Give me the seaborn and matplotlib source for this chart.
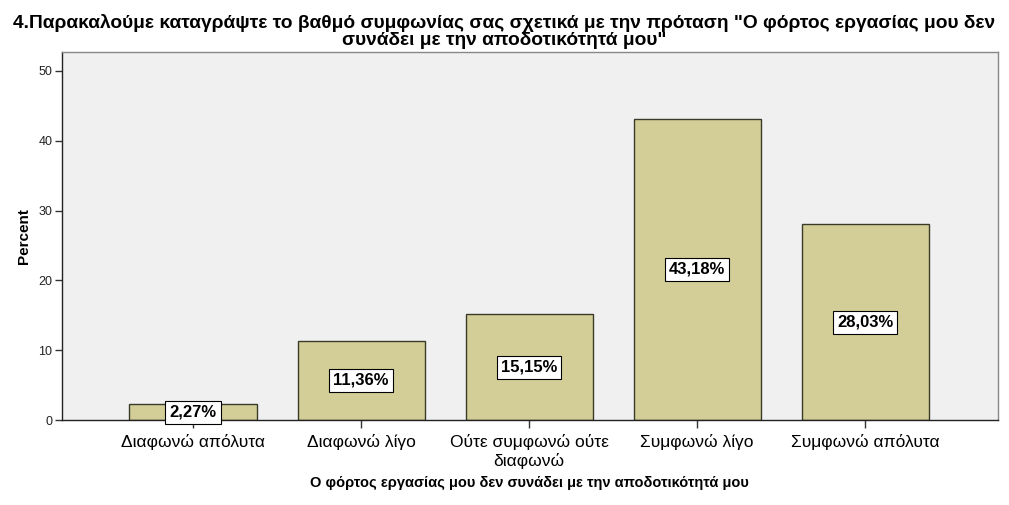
import matplotlib.pyplot as plt
import pandas as pd
import seaborn as sns

# Data
categories = [
    "Διαφωνώ απόλυτα",
    "Διαφωνώ λίγο",
    "Ούτε συμφωνώ ούτε\nδιαφωνώ",
    "Συμφωνώ λίγο",
    "Συμφωνώ απόλυτα",
]
percents = [2.27, 11.36, 15.15, 43.18, 28.03]
y_ticks = [0, 10, 20, 30, 40, 50]

title = ('4.Παρακαλούμε καταγράψτε το βαθμό συμφωνίας σας σχετικά με την πρόταση '
         '"Ο φόρτος εργασίας μου δεν\nσυνάδει με την αποδοτικότητά μου"')
x_label = "Ο φόρτος εργασίας μου δεν συνάδει με την αποδοτικότητά μου"

df = pd.DataFrame({"category": categories, "percent": percents})

sns.set_style("white")
plt.rcParams["font.family"] = ["Liberation Sans", "DejaVu Sans"]
plt.rcParams["text.color"] = "black"
plt.rcParams["axes.labelcolor"] = "black"

fig = plt.figure(figsize=(10.09, 5.05), dpi=100)
ax = fig.add_axes([0.0614, 0.168, 0.9275, 0.729])
ax.set_facecolor("#F0F0F0")

sns.barplot(
    data=df,
    x="category",
    y="percent",
    color="#D3CE97",
    saturation=1,
    edgecolor="#3A3A2A",
    linewidth=1,
    width=0.756,
    ax=ax,
)

# value labels in white boxes at mid-height of each bar
for i, v in enumerate(percents):
    ax.text(
        i, v / 2, f"{v:.2f}%".replace(".", ","),
        ha="center", va="center", fontsize=12, fontweight="bold", color="black",
        bbox=dict(boxstyle="square,pad=0.25", fc="white", ec="black", lw=0.8),
    )

ax.set_xlim(-0.78, 4.79)
ax.set_ylim(0, 52.7)
ax.set_yticks(y_ticks)
ax.tick_params(axis="y", labelsize=9, labelcolor="#222222", length=5, width=1,
               direction="out", left=True, pad=2, color="#333333")
ax.tick_params(axis="x", labelsize=12.5, labelcolor="black", length=6, width=1,
               bottom=True, direction="out", pad=4, color="#333333")

for s in ["left", "bottom"]:
    ax.spines[s].set_color("#222222")
    ax.spines[s].set_linewidth(1)
for s in ["top", "right"]:
    ax.spines[s].set_color("#888888")
    ax.spines[s].set_linewidth(1)

ax.set_xlabel(x_label, fontsize=10.5, fontweight="bold", labelpad=5)
ax.set_ylabel("Percent", fontsize=11, fontweight="bold", labelpad=5)

fig.suptitle(title, fontsize=13.8, fontweight="bold", y=0.972, va="top",
             linespacing=1.0)

fig.savefig("out.png", dpi=100)
